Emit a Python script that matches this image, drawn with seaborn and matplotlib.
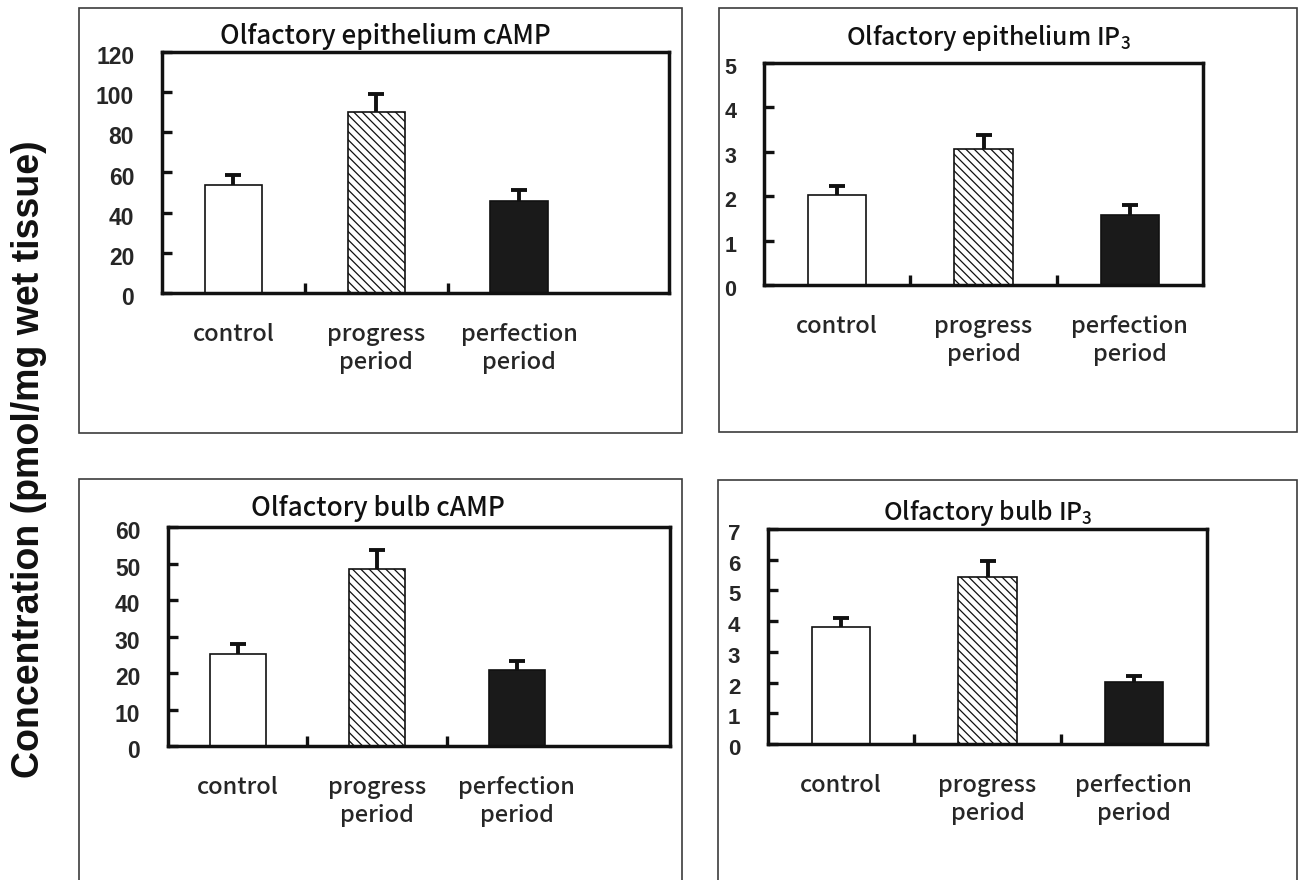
import numpy as np
import pandas as pd
import matplotlib
matplotlib.use("Agg")
import matplotlib.pyplot as plt
import matplotlib.transforms as mtrans
from matplotlib.patches import Rectangle
import seaborn as sns

# ---------------- data ----------------
categories = ["control", "progress\nperiod", "perfection\nperiod"]

titles = [r"Olfactory epithelium cAMP",
          r"Olfactory epithelium IP$_3$",
          r"Olfactory bulb cAMP",
          r"Olfactory bulb IP$_3$"]

epi_camp = [54.0, 90.0, 46.0]
epi_camp_err = [4.8, 9.1, 5.3]

epi_ip3 = [2.02, 3.07, 1.58]
epi_ip3_err = [0.20, 0.30, 0.22]

bulb_camp = [25.2, 48.6, 20.9]
bulb_camp_err = [2.8, 5.2, 2.3]

bulb_ip3 = [3.80, 5.45, 2.03]
bulb_ip3_err = [0.30, 0.50, 0.18]

y_maxes = [120, 5, 60, 7]
y_steps = [20, 1, 10, 1]

ylabel = "Concentration (pmol/mg wet tissue)"

# ---------------- style ----------------
sns.set_style("white")
plt.rcParams["font.family"] = ["Liberation Sans", "DejaVu Sans"]
plt.rcParams["mathtext.fontset"] = "custom"
plt.rcParams["mathtext.rm"] = "Noto Sans CJK JP"
plt.rcParams["mathtext.default"] = "regular"
plt.rcParams["hatch.linewidth"] = 0.9

W, H = 1300, 880
fig = plt.figure(figsize=(13, 8.8), dpi=100)
fig.patch.set_facecolor("white")

def fx(px):
    return px / W

def fy(py):
    return 1 - py / H

def rect(l, t, r, b):
    return [fx(l), fy(b), fx(r) - fx(l), (b - t) / H]

# axes rectangles (pixels: left, top, right, bottom)
ax_boxes = [(162, 52, 669, 293),
            (764, 63, 1203, 285),
            (168, 527, 670, 746),
            (768, 529, 1207, 744)]
xlims = [(-0.5, 3.05), (-0.5, 2.5), (-0.5, 3.1), (-0.5, 2.5)]
outer_boxes = [(79, 8, 682, 433),
               (719, 8, 1297, 432),
               (79, 479, 682, 884),
               (718, 480, 1297, 884)]
title_pos = [(385, 37), (988, 38), (378, 508), (988, 513)]
title_sizes = [18.7, 17.8, 18.9, 17.8]
ytick_sizes = [16.5, 15.5, 16.5, 16]

series = [(epi_camp, epi_camp_err), (epi_ip3, epi_ip3_err),
          (bulb_camp, bulb_camp_err), (bulb_ip3, bulb_ip3_err)]

fill_colors = ["white", "white", "#1a1a1a"]
hatches = [None, "\\\\\\\\", None]
label_font = "Noto Sans CJK JP"

for i in range(4):
    # outer panel frame
    l, t, r, b = outer_boxes[i]
    fig.patches.append(Rectangle((fx(l), fy(b)), fx(r) - fx(l), (b - t) / H,
                                 transform=fig.transFigure, fill=False,
                                 edgecolor="#3c3c3c", linewidth=1.2))

    ax = fig.add_axes(rect(*ax_boxes[i]))
    vals, errs = series[i]
    df = pd.DataFrame({"group": categories, "value": vals})
    sns.barplot(data=df, x="group", y="value", hue="group",
                palette=fill_colors, width=0.4, errorbar=None,
                legend=False, ax=ax, saturation=1)
    for j, cont in enumerate(ax.containers):
        for p in cont.patches:
            p.set_edgecolor("#111111")
            p.set_linewidth(1.2)
            if hatches[j]:
                p.set_hatch(hatches[j])
                p.set_facecolor("white")
    eb = ax.errorbar(np.arange(len(vals)), vals,
                     yerr=[np.zeros(len(vals)), errs],
                     fmt="none", ecolor="#111111", elinewidth=2.8,
                     capsize=6, capthick=2.8, zorder=5)
    caplines = eb[1]
    if len(caplines) >= 1:
        caplines[0].set_visible(False)

    ticks = np.arange(0, y_maxes[i] + y_steps[i] / 2, y_steps[i])
    ax.set_xlim(*xlims[i])
    ax.set_ylim(0, y_maxes[i])
    ax.set_yticks(ticks)
    ax.set_yticklabels([str(int(v)) for v in ticks])
    ax.set_xticks(range(len(categories)))
    ax.set_xticklabels(categories, fontfamily=label_font, fontsize=17.0,
                       linespacing=1.28, fontweight="medium")
    ax.set_xticks([0.5, 1.5], minor=True)
    ax.tick_params(axis="x", which="major", length=0, pad=21.5)
    ax.tick_params(axis="x", which="minor", direction="in", length=7,
                   width=2.4, color="#111111", bottom=True)
    ax.tick_params(axis="y", which="major", direction="in", length=7,
                   width=2.4, color="#111111", pad=20, left=True,
                   labelsize=ytick_sizes[i])
    for lab in ax.get_yticklabels():
        lab.set_fontweight("bold")
        lab.set_transform(lab.get_transform() +
                          mtrans.ScaledTranslation(0, -3 / 100, fig.dpi_scale_trans))
    for sp in ax.spines.values():
        sp.set_visible(True)
        sp.set_linewidth(2.5)
        sp.set_color("#111111")
    ax.set_xlabel("")
    ax.set_ylabel("")

    tx, ty = title_pos[i]
    fig.text(fx(tx), fy(ty), titles[i], ha="center", va="center",
             fontfamily=label_font, fontsize=title_sizes[i],
             fontweight="medium", color="#111111")

fig.text(fx(29), fy(459), ylabel, rotation=90, ha="center", va="center",
         fontsize=27, fontweight="bold", color="#111111")

fig.savefig("out.png", dpi=100, facecolor="white")
